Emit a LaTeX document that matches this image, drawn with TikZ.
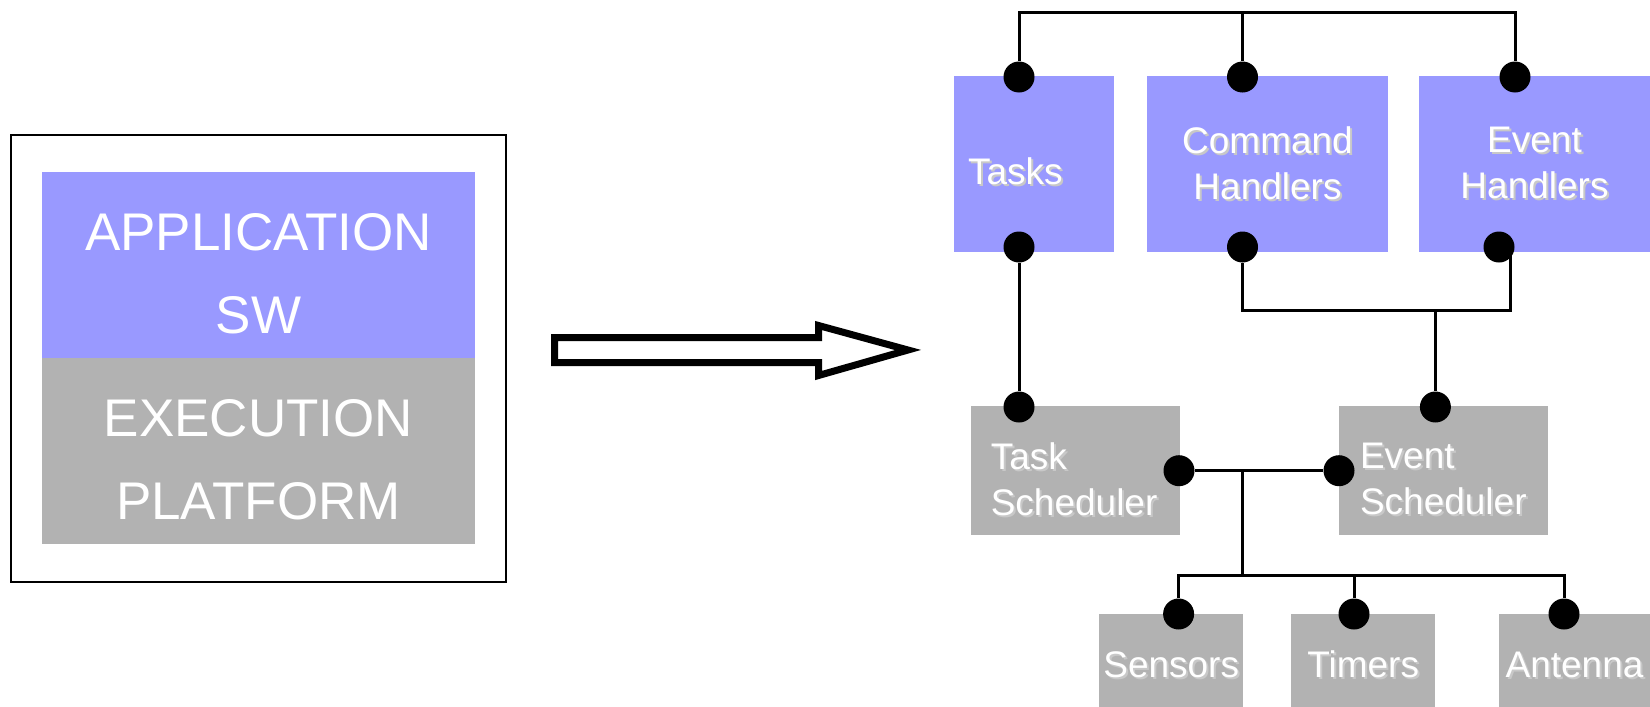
\documentclass[tikz,border=0pt]{standalone}
\usepackage{fontspec}
\setmainfont{Liberation Sans}

\definecolor{appblue}{RGB}{153,153,255}
\definecolor{platgray}{RGB}{178,178,178}
\definecolor{shade}{RGB}{200,200,200}
% white label with a light drop shadow, optionally lowered (extent kept)
\newcommand{\shd}[2][0pt]{\raisebox{-#1}[\height][\depth]{\makebox[0pt][l]{\kern1pt\raisebox{-1pt}{\textcolor{shade}{#2}}}#2}}
\newcommand{\low}[1]{\raisebox{-4.5pt}[\height][\depth]{#1}}

\begin{document}
\begin{tikzpicture}[x=0.5pt,y=-0.5pt,
  box/.style={rectangle,inner sep=0pt,text=white,align=center,
    font=\fontsize{18.5pt}{23pt}\selectfont},
  app node/.style={box,fill=appblue},
  plat node/.style={box,fill=platgray},
  port/.style={circle,fill=black,inner sep=0pt,minimum size=15.5pt},
  wire/.style={line width=1.5pt}]
  \useasboundingbox (0,0) rectangle (1650,707);

  % layered view
  \node[draw,line width=1pt,minimum width=247.5pt,minimum height=223.5pt] (frame) at (258.5,358.5) {};
  \node[app node,minimum width=216.5pt,minimum height=93pt,
    font=\fontsize{26.5pt}{41.5pt}\selectfont] (app) at (258.5,265) {\low{APPLICATION}\\\low{SW}};
  \node[plat node,minimum width=216.5pt,minimum height=93pt,
    font=\fontsize{26.5pt}{41.5pt}\selectfont] (exec) at (258.5,451) {\low{EXECUTION}\\\low{PLATFORM}};

  % block arrow
  \draw[line width=3.5pt] (554.5,337.5) -- (818.5,337.5) -- (818.5,325.5) -- (908,350)
    -- (818.5,375.5) -- (818.5,362.5) -- (554.5,362.5) -- cycle;

  % components
  \node[app node,minimum width=80.15pt,minimum height=88.15pt,text width=65.75pt,
    inner xsep=7.2pt,align=left] (tasks) at (1033.75,164.15) {\shd[4.25pt]{Tasks}};
  \node[app node,minimum width=120.5pt,minimum height=88.15pt] (cmd) at (1267.5,164.15) {\shd{Command}\\\shd{Handlers}};
  \node[app node,minimum width=115.5pt,minimum height=88.15pt] (evh) at (1534.5,164.15) {\shd{Event}\\\shd{Handlers}};
  \node[plat node,minimum width=104.35pt,minimum height=64.35pt,text width=84.35pt,
    inner xsep=10pt,align=left] (tsch) at (1075.15,470.35) {\shd[4.75pt]{Task}\\\shd[4.75pt]{Scheduler}};
  \node[plat node,minimum width=104.3pt,minimum height=64.35pt,text width=83.3pt,
    inner xsep=10.5pt,align=left] (esch) at (1443.3,470.35) {\shd[4.75pt]{Event}\\\shd[4.75pt]{Scheduler}};
  \node[plat node,minimum width=72.2pt,minimum height=46.5pt] (sens) at (1171.2,660.5) {\shd[2.5pt]{Sensors}};
  \node[plat node,minimum width=72.2pt,minimum height=46.5pt] (tim) at (1363.2,660.5) {\shd[2.5pt]{Timers}};
  \node[plat node,minimum width=75.5pt,minimum height=46.5pt] (ant) at (1574.5,660.5) {\shd[2.5pt]{Antenna}};

  % ports
  \node[port] (p1) at (1019,77) {};
  \node[port] (p2) at (1242.5,77) {};
  \node[port] (p3) at (1515,77) {};
  \node[port] (p4) at (1019,247) {};
  \node[port] (p5) at (1242.5,247) {};
  \node[port] (p6) at (1499,247) {};
  \node[port] (p7) at (1019,407) {};
  \node[port] (p8) at (1435.4,407) {};
  \node[port] (p9) at (1179,470.7) {};
  \node[port] (p10) at (1339,470.7) {};
  \node[port] (p11) at (1178.6,614) {};
  \node[port] (p12) at (1354,614) {};
  \node[port] (p13) at (1564,614) {};

  \coordinate (top) at (1242.5,12.3);
  \coordinate (mid) at (1435.4,310);
  \coordinate (hub) at (1242.5,470.7);
  \coordinate (bus) at (1242.5,575);

  % bindings
  \draw[wire] (p1) |- (top) -| (p3);
  \draw[wire] (p2) -- (top);
  \draw[wire] (p4) -- (p7);
  \draw[wire] (p5) |- (mid) -| ([xshift=5.5pt]p6.center);
  \draw[wire] (mid) -- (p8);
  \draw[wire] (p9) -- (p10);
  \draw[wire] (hub) -- (bus);
  \draw[wire] (p11) |- (bus) -| (p13);
  \draw[wire] (p12) -- (p12 |- bus);
\end{tikzpicture}
\end{document}
